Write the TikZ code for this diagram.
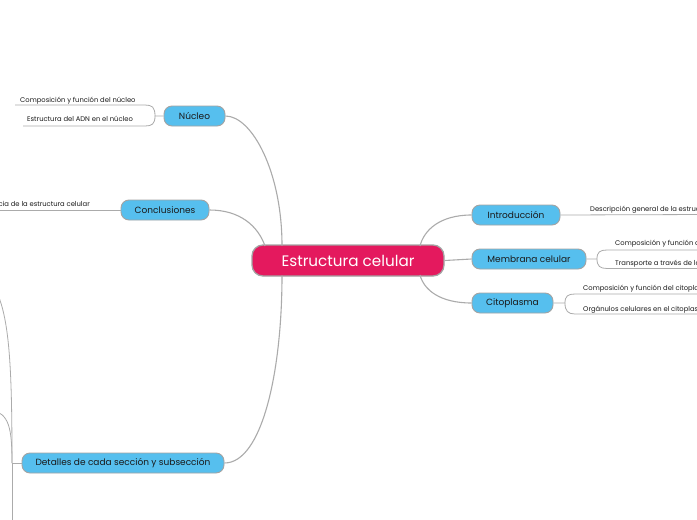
\documentclass[tikz,border=0pt]{standalone}
\usepackage{fontspec}
\setmainfont{Poppins}
\definecolor{pinkc}{HTML}{E4195E}
\definecolor{bluec}{HTML}{56BFEE}
\definecolor{bordc}{HTML}{A3A3A3}
\definecolor{linec}{HTML}{ABABAB}
\definecolor{txtc}{HTML}{1A1A1A}
\tikzset{
  central/.style={draw=bordc, line width=1.3pt, fill=pinkc, rounded corners=11pt, text=white, font=\fontsize{15.2}{16}\selectfont, inner sep=0pt, minimum height=31pt},
  topic/.style={draw=bordc, line width=0.9pt, fill=bluec, rounded corners=8pt, text=txtc, font=\fontsize{9}{10}\selectfont, inner sep=0pt, minimum height=20pt},
  subtext/.style={text=txtc, font=\fontsize{6.8}{7}\selectfont, inner sep=0pt},
  conn/.style={draw=linec, line width=1.1pt},
  subconn/.style={draw=linec, line width=0.8pt},
}
\begin{document}
\begin{tikzpicture}[x=1pt,y=-1pt]
\useasboundingbox (0,0) rectangle (697,520);
\clip (0,0) rectangle (697,520);
\fill[white] (0,0) rectangle (697,520);

% main nodes
\node[central, minimum width=192pt] (c) at (348,260.5) {Estructura celular};
\node[topic, minimum width=61pt] (nuc) at (194.5,116) {Núcleo};
\node[topic, minimum width=88pt] (con) at (165,210) {Conclusiones};
\node[topic, minimum width=202pt] (det) at (123,463) {Detalles de cada sección y subsección};
\node[topic, minimum width=88pt] (int) at (516,215) {Introducción};
\node[topic, minimum width=114pt] (mem) at (529,259) {Membrana celular};
\node[topic, minimum width=81pt] (cit) at (512.5,303) {Citoplasma};

% anchor coordinates on the central node
\coordinate (cN1) at (282,245.5);
\coordinate (cN2) at (265,246);
\coordinate (cS1) at (282,275.5);
\coordinate (cNE) at (420,246);
\coordinate (cSE) at (420,275);

% main connectors
\draw[conn] (nuc.east) .. controls (252,116) and (282,172) .. (cN1);
\draw[conn] (con.east) .. controls (240,210) and (258,226) .. (cN2);
\draw[conn] (det.east) .. controls (262,463) and (282,372) .. (cS1);
\draw[conn] (int.west) .. controls (440,215) and (424,230) .. (cNE);
\draw[conn] (mem.west) -- (c.east);
\draw[conn] (cit.west) .. controls (440,303) and (424,290) .. (cSE);

% Nucleo subtopics
\node[subtext, anchor=base west] (n1) at (20,102) {Composición y función del núcleo};
\node[subtext, anchor=base west] (n2) at (27,121.5) {Estructura del ADN en el núcleo};
\coordinate (nb) at (155,116);
\coordinate (n1e) at (15,105);
\coordinate (n2e) at (23,126);
\draw[subconn] (nuc.west) -- (nb) .. controls (155,107) and (152,105) .. (145,105) -- (n1e);
\draw[subconn] (nb) .. controls (155,124) and (152,126) .. (145,126) -- (n2e);

% Conclusiones subtopic
\node[subtext, anchor=base east] (k1) at (90,206) {Importancia de la estructura celular};
\coordinate (k1e) at (-5,210);
\draw[subconn] (con.west) -- (k1e);

% Introduccion subtopic
\node[subtext, anchor=base west] (i1) at (590,211) {Descripción general de la estructura celular};
\coordinate (i1e) at (705,214.5);
\draw[subconn] (int.east) -- (i1e);

% Membrana subtopics
\node[subtext, anchor=base west] (m1) at (615,245) {Composición y función de la membrana celular};
\node[subtext, anchor=base west] (m2) at (615,265) {Transporte a través de la membrana};
\coordinate (mb) at (597,259);
\coordinate (m1e) at (705,250);
\coordinate (m2e) at (705,268.5);
\draw[subconn] (mem.east) -- (mb) .. controls (597,252) and (600,250) .. (607,250) -- (m1e);
\draw[subconn] (mb) .. controls (597,266) and (600,268.5) .. (607,268.5) -- (m2e);

% Citoplasma subtopics
\node[subtext, anchor=base west] (p1) at (583,290.5) {Composición y función del citoplasma};
\node[subtext, anchor=base west] (p2) at (583,311) {Orgánulos celulares en el citoplasma};
\coordinate (pb) at (565,303);
\coordinate (p1e) at (705,294);
\coordinate (p2e) at (705,314);
\draw[subconn] (cit.east) -- (pb) .. controls (565,296) and (568,294) .. (575,294) -- (p1e);
\draw[subconn] (pb) .. controls (565,311) and (568,314) .. (575,314) -- (p2e);

% Detalles children (off canvas to the left)
\coordinate (db) at (12,463);
\coordinate (d1) at (-20,270);
\coordinate (d2) at (-8,410);
\coordinate (d3) at (12,530);
\draw[subconn] (det.west) -- (db);
\draw[subconn] (db) .. controls (12,340) and (8,292) .. (d1);
\draw[subconn] (db) .. controls (12,428) and (9,414) .. (d2);
\draw[subconn] (db) -- (d3);
\end{tikzpicture}
\end{document}
